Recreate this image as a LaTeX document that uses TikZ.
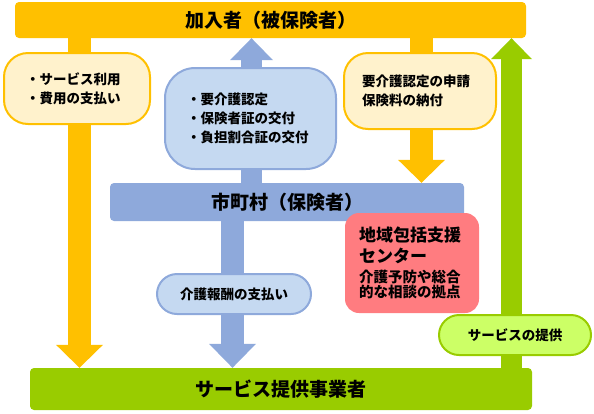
\documentclass[tikz,border=0pt]{standalone}
\usepackage{fontspec}
\newfontfamily\jp{Noto Sans CJK JP}
\usetikzlibrary{arrows.meta,backgrounds}
\definecolor{ygold}{HTML}{FFC000}
\definecolor{ylight}{HTML}{FFF2CC}
\definecolor{bmid}{HTML}{8EA9DB}
\definecolor{blight}{HTML}{C5D9F1}
\definecolor{gmid}{HTML}{99CC00}
\definecolor{glight}{HTML}{CCFF66}
\definecolor{pinkbox}{HTML}{FF7C80}
\begin{document}
\begin{tikzpicture}[x=1pt,y=-1pt,
  every node/.style={font=\jp\bfseries},
  barbox/.style={rounded corners=4pt, inner sep=0pt, font=\jp\bfseries\fontsize{19}{19}\selectfont},
  bub/.style={rounded corners=#1, line width=2pt, align=left, inner ysep=0pt, font=\jp\bfseries\fontsize{13.5}{19}\selectfont},
  fat/.style n args={4}{draw=#1, line width=#2, -{Triangle[length=#3,width=#4,line width=0pt]}}
]
\useasboundingbox (0,0) rectangle (594,413);
% bars
\node[barbox, fill=ygold, minimum width=511pt, minimum height=36pt] (top) at (270.5,20) {加入者（被保険者）};
\node[barbox, fill=bmid, minimum width=354pt, minimum height=38pt] (city) at (287,202) {市町村（保険者）};
\node[barbox, fill=gmid, minimum width=502pt, minimum height=42pt] (prov) at (281,389) {サービス提供事業者};
% bubbles
\node[bub=24pt, draw=ygold, fill=ylight, text width=102pt, inner xsep=22pt, minimum height=71pt] (use) at (77,88.5) {・サービス利用\\・費用の支払い};
\node[bub=30pt, draw=bmid, fill=blight, text width=127pt, inner xsep=22pt, minimum height=101pt] (cert) at (250.5,118.5) {・要介護認定\\・保険者証の交付\\・負担割合証の交付};
\node[bub=24pt, draw=ygold, fill=ylight, text width=116pt, inner xsep=18pt, minimum height=76pt] (apply) at (420,91) {要介護認定の申請\\保険料の納付};
\node[bub=20pt, draw=bmid, fill=blight, minimum width=154pt, minimum height=40pt] (pay) at (234,294) {介護報酬の支払い};
\node[bub=20pt, draw=gmid, fill=glight, minimum width=152pt, minimum height=40pt] (serv) at (515,335) {サービスの提供};
\node[rounded corners=14pt, fill=pinkbox, text width=106pt, inner xsep=14pt, inner ysep=0pt, minimum height=100pt, align=left] (center) at (412,263)
  {\fontsize{17}{21}\selectfont 地域包括支援\\センター\par\fontsize{14.5}{20}\selectfont 介護予防や総合\\的な相談の拠点};
% arrow axes
\coordinate (xa) at (79.5,0);
\coordinate (xb) at (251.5,0);
\coordinate (xc) at (232.5,0);
\coordinate (xd) at (421.5,0);
\coordinate (xe) at (511.5,0);
\begin{pgfonlayer}{background}
\draw[fat={ygold}{23pt}{23pt}{47pt}] (top.south -| xa) -- (prov.north -| xa);
\draw[fat={bmid}{21pt}{22pt}{43pt}] (city.north -| xb) -- (top.south -| xb);
\draw[fat={bmid}{23pt}{24pt}{47pt}] (city.south -| xc) -- (prov.north -| xc);
\draw[fat={ygold}{23pt}{23pt}{47pt}] (top.south -| xd) -- (city.north -| xd);
\draw[fat={gmid}{21pt}{21pt}{41pt}] (prov.north -| xe) -- (top.south -| xe);
\end{pgfonlayer}
\end{tikzpicture}
\end{document}
